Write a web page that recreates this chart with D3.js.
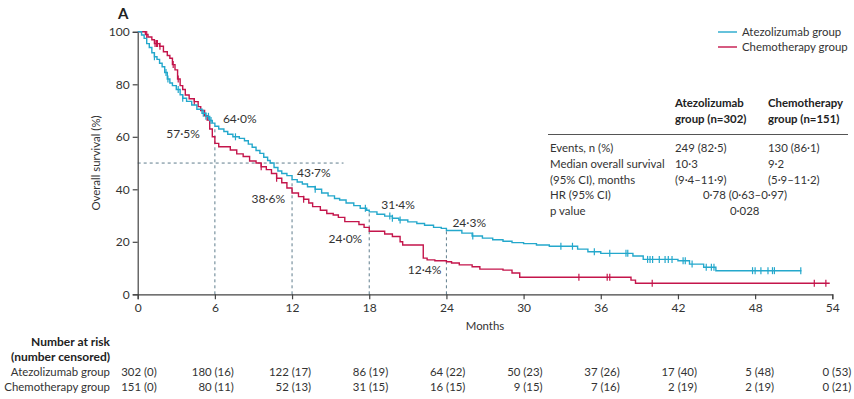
<!DOCTYPE html>
<html><head><meta charset="utf-8">
<script src="https://cdn.jsdelivr.net/npm/d3@7"></script>
<style>
html,body{margin:0;padding:0;background:#fff;}
text{font-family:"Lato",sans-serif;fill:#333;}
</style></head>
<body><svg id="c" width="854" height="399"></svg>
<script>
// ---------- DATA ----------
const monthTicks = [0,6,12,18,24,30,36,42,48,54];
const survTicks = [0,20,40,60,80,100];
const seriesNames = ["Atezolizumab group","Chemotherapy group"];
// Kaplan–Meier steps [month, survival %]
const atezoSteps = [[0,100],[0.3,98.8],[0.5,97.5],[0.7,95.5],[0.9,94],[1.1,92],[1.3,90.5],[1.5,89.5],[1.7,88],[1.9,86.7],[2.1,84.5],[2.3,82],[2.5,80.5],[2.7,79.5],[3.0,78],[3.3,76],[3.5,74.7],[3.8,73.5],[4.2,72.1],[4.6,70.5],[5.0,69],[5.3,67.8],[5.6,66.2],[5.8,65.2],[6.0,64.0],[6.3,63],[6.7,62],[7.0,61],[7.4,60],[7.9,59.4],[8.3,58.5],[8.6,57.2],[8.9,56],[9.2,54.8],[9.5,53.7],[9.8,52.2],[10.1,51],[10.3,50],[10.6,48.3],[10.9,47],[11.2,46],[11.6,45.2],[12.0,43.7],[12.4,42.8],[12.8,42],[13.2,41],[13.8,40],[14.3,38.6],[14.8,37.5],[15.3,36.5],[15.7,35.9],[16.2,34.8],[16.8,33.8],[17.3,32.8],[17.8,32],[18.0,31.4],[18.6,30.5],[19.2,29.8],[19.8,29],[20.3,28.3],[21.0,27.6],[21.7,27],[22.3,26.3],[23.0,25.5],[23.6,25.1],[24.0,24.3],[25.2,23.3],[26.0,22.2],[26.8,21.4],[27.6,20.8],[28.4,20.2],[29.1,19.7],[30.0,19.3],[31.0,18.8],[32.0,18.3],[34.2,17.2],[35.0,16.2],[36.0,15.6],[38.5,14.6],[39.3,13.3],[42.0,12.8],[42.9,11.5],[44.0,10.3],[44.95,9.0],[51.6,9.0]];
const chemoSteps = [[0,100],[0.6,99],[0.8,98],[1.1,97],[1.3,95.5],[1.7,94.5],[2.0,92.4],[2.3,91],[2.5,89.9],[2.7,87.5],[2.9,85.5],[3.1,82],[3.3,79.5],[3.5,78],[3.7,75.9],[4.0,74.5],[4.4,73.4],[4.7,71.5],[4.9,70],[5.2,68],[5.4,66.4],[5.6,63],[5.8,60],[6.0,57.5],[6.3,56.2],[7.2,55],[7.7,53.5],[8.2,52.5],[8.7,50.8],[9.2,50],[9.6,48.6],[10.0,47.5],[10.4,46],[10.8,44.2],[11.2,42.5],[11.6,40.5],[12.0,38.6],[12.5,37.2],[12.9,36.2],[13.3,34.8],[13.6,33.4],[14.2,32],[14.7,30.8],[15.2,30.2],[15.6,29.3],[16.1,27.7],[17.2,26.6],[17.6,25.5],[18.0,24.0],[19.2,23.0],[19.8,22.0],[20.4,20.0],[20.6,18.8],[22.2,13.8],[22.5,13.1],[23.1,12.8],[24.0,12.4],[24.4,11.9],[25.0,11.2],[26.0,10.5],[26.6,9.6],[28.4,9.2],[29.1,8.1],[29.7,6.5],[38.35,5.4],[38.7,4.2],[53.8,4.2]];
// censor times (months)
const atezoCensor = [1.3,2.2,2.35,3.15,3.5,5.1,5.3,5.5,5.7,7.6,13.8,17.7,19.6,19.8,20.4,26.05,32.9,33.8,35.5,36.7,37.96,38.1,39.64,39.83,40.03,40.55,41.0,41.25,41.54,42.4,42.57,43.1,44.2,44.6,44.8,47.8,48.0,48.45,49.0,49.35,49.5,51.55];
const chemoCensor = [0.7,1.35,1.47,1.53,1.73,2.76,3.15,4.4,9.6,10.8,12.9,34.3,36.5,36.7,40.0,52.6,53.5];
// milestone survival
const milestoneMonths = [6,12,18,24];
const atezoMilestone = ["64·0%","43·7%","31·4%","24·3%"];
const atezoMilestoneVal = [64.0,43.7,31.4,24.3];
const chemoMilestone = ["57·5%","38·6%","24·0%","12·4%"];
const chemoMilestoneVal = [57.5,38.6,24.0,12.4];
const medianRefLevel = 50, medianRefEnd = 16;
// summary table
const tableHeader = [["Atezolizumab","group (n=302)"],["Chemotherapy","group (n=151)"]];
const tableRowLabels = ["Events, n (%)","Median overall survival","(95% CI), months","HR (95% CI)","p value"];
const tableAtezo = ["249 (82·5)","10·3","(9·4–11·9)"];
const tableChemo = ["130 (86·1)","9·2","(5·9–11·2)"];
const hrText = "0·78 (0·63–0·97)";
const pText = "0·028";
// number at risk
const atRiskAtezo = ["302 (0)","180 (16)","122 (17)","86 (19)","64 (22)","50 (23)","37 (26)","17 (40)","5 (48)","0 (53)"];
const atRiskChemo = ["151 (0)","80 (11)","52 (13)","31 (15)","16 (15)","9 (15)","7 (16)","2 (19)","2 (19)","0 (21)"];

// ---------- DRAW ----------
const svg = d3.select("#c");
const BLUE = "#24a8cc", RED = "#c4154b", DASH = "#5f7d8c", AX = "#444";
const FS = 11.4;
const x = d3.scaleLinear().domain([0,54]).range([137.7,832.3]);
const y = d3.scaleLinear().domain([0,100]).range([294.3,31.8]);

svg.append("text").attr("x",118).attr("y",19).attr("font-size",15).attr("font-weight","bold").style("fill","#222").text("A");

// reference dashed lines
const ref = svg.append("g").attr("stroke",DASH).attr("stroke-width",1).attr("stroke-dasharray","3,3").attr("fill","none");
ref.append("line").attr("x1",x(0)).attr("x2",x(medianRefEnd)).attr("y1",y(medianRefLevel)).attr("y2",y(medianRefLevel));
milestoneMonths.forEach((m,i)=>{
  ref.append("line").attr("x1",x(m)).attr("x2",x(m)).attr("y1",y(0)).attr("y2",y(Math.max(atezoMilestoneVal[i],chemoMilestoneVal[i])));
});

// axes
const xAxis = svg.append("g").attr("transform",`translate(0,${y(0)})`)
  .call(d3.axisBottom(x).tickValues(monthTicks).tickSize(5).tickPadding(4).tickFormat(d3.format("d")));
const yAxis = svg.append("g").attr("transform",`translate(${x(0)},0)`)
  .call(d3.axisLeft(y).tickValues(survTicks).tickSize(5).tickPadding(3).tickFormat(d3.format("d")));
[xAxis,yAxis].forEach(g=>{
  g.selectAll("path,line").attr("stroke",AX).attr("stroke-width",1.2);
  g.selectAll("text").attr("font-size",12).attr("font-family","Lato").style("fill","#333");
});
svg.append("text").attr("x",485).attr("y",330).attr("text-anchor","middle").attr("font-size",FS).text("Months");
svg.append("text").attr("transform","translate(100,163) rotate(-90)").attr("text-anchor","middle").attr("font-size",FS).text("Overall survival (%)");

// curves
const line = d3.line().x(d=>x(d[0])).y(d=>y(d[1])).curve(d3.curveStepAfter);
const bis = d3.bisector(d=>d[0]).right;
function survAt(steps,t){ const i = bis(steps,t)-1; return steps[Math.max(0,i)][1]; }
[[chemoSteps,chemoCensor,RED],[atezoSteps,atezoCensor,BLUE]].forEach(([steps,cens,col])=>{
  svg.append("path").datum(steps).attr("d",line).attr("fill","none").attr("stroke",col).attr("stroke-width",1.4);
  svg.append("g").selectAll("line").data(cens).join("line")
    .attr("x1",d=>x(d)).attr("x2",d=>x(d))
    .attr("y1",d=>y(survAt(steps,d))-3.5).attr("y2",d=>y(survAt(steps,d))+3.5)
    .attr("stroke",col).attr("stroke-width",1.2);
});

// milestone labels (layout offsets)
const atezoOff = [[8,-8,"start"],[5,-7,"start"],[12,-7,"start"],[6,-8,"start"]];
const chemoOff = [[-15,-10,"end"],[-7,6,"end"],[-7,7,"end"],[-5,8,"end"]];
milestoneMonths.forEach((m,i)=>{
  svg.append("text").attr("x",x(m)+atezoOff[i][0]).attr("y",y(atezoMilestoneVal[i])+atezoOff[i][1]).attr("dy","0.35em")
    .attr("text-anchor",atezoOff[i][2]).attr("font-size",12).text(atezoMilestone[i]);
  svg.append("text").attr("x",x(m)+chemoOff[i][0]).attr("y",y(chemoMilestoneVal[i])+chemoOff[i][1]).attr("dy","0.35em")
    .attr("text-anchor",chemoOff[i][2]).attr("font-size",12).text(chemoMilestone[i]);
});

// legend
[BLUE,RED].forEach((c,i)=>{
  const ly = 32 + i*15;
  svg.append("line").attr("x1",718).attr("x2",737).attr("y1",ly).attr("y2",ly).attr("stroke",c).attr("stroke-width",1.4);
  svg.append("text").attr("x",742).attr("y",ly).attr("dy","0.35em").attr("font-size",FS).text(seriesNames[i]);
});

// summary table
const colX = [675,768];
tableHeader.forEach((h,i)=>{
  h.forEach((t,j)=>svg.append("text").attr("x",colX[i]).attr("y",103+j*16).attr("dy","0.35em").attr("font-size",FS).attr("font-weight",700).style("fill","#222").text(t));
});
svg.append("line").attr("x1",548).attr("x2",848).attr("y1",134.5).attr("y2",134.5).attr("stroke","#555").attr("stroke-width",1);
const rowY = [148,164,180,195.5,211];
tableRowLabels.forEach((t,i)=>svg.append("text").attr("x",550).attr("y",rowY[i]).attr("dy","0.35em").attr("font-size",FS).text(t));
tableAtezo.forEach((t,i)=>svg.append("text").attr("x",colX[0]).attr("y",rowY[i]).attr("dy","0.35em").attr("font-size",FS).text(t));
tableChemo.forEach((t,i)=>svg.append("text").attr("x",colX[1]).attr("y",rowY[i]).attr("dy","0.35em").attr("font-size",FS).text(t));
svg.append("text").attr("x",703).attr("y",rowY[3]).attr("dy","0.35em").attr("font-size",FS).text(hrText);
svg.append("text").attr("x",730).attr("y",rowY[4]).attr("dy","0.35em").attr("font-size",FS).text(pText);

// number at risk
svg.append("text").attr("x",110).attr("y",342).attr("dy","0.35em").attr("text-anchor","end").attr("font-size",12).attr("font-weight",700).style("fill","#222").text("Number at risk");
svg.append("text").attr("x",110).attr("y",357).attr("dy","0.35em").attr("text-anchor","end").attr("font-size",12).attr("font-weight",700).style("fill","#222").text("(number censored)");
[[atRiskAtezo,372.5],[atRiskChemo,387.5]].forEach(([arr,ry],k)=>{
  svg.append("text").attr("x",110).attr("y",ry).attr("dy","0.35em").attr("text-anchor","end").attr("font-size",FS).text(seriesNames[k]);
  arr.forEach((t,i)=>svg.append("text").attr("x",x(monthTicks[i])+19).attr("y",ry).attr("dy","0.35em").attr("text-anchor","end").attr("font-size",FS).text(t));
});
</script></body></html>
